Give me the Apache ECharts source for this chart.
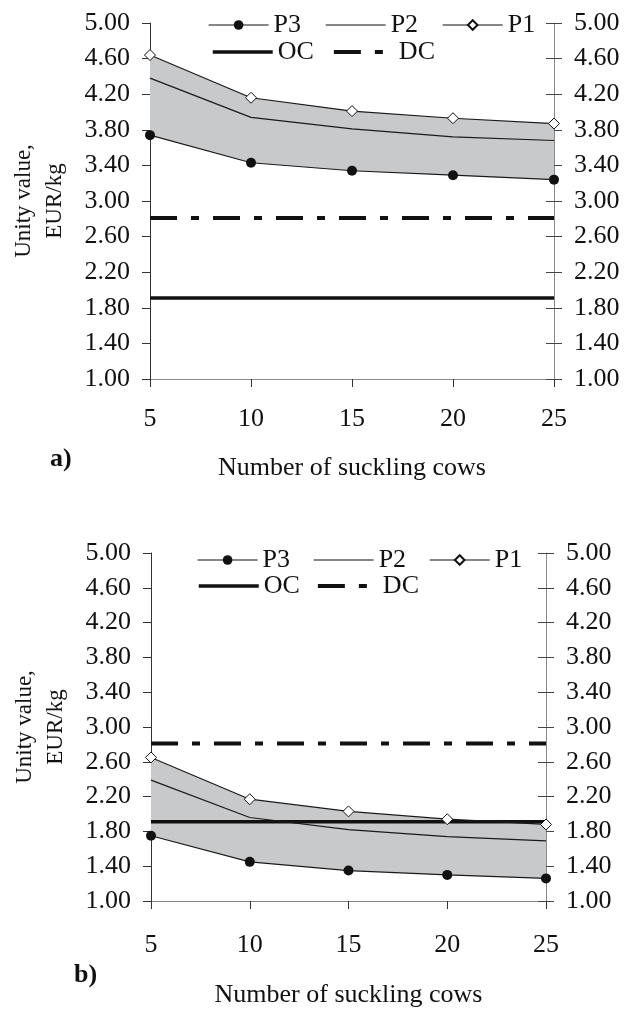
<!DOCTYPE html>
<html>
<head>
<meta charset="utf-8">
<script src="https://cdn.jsdelivr.net/npm/echarts@6/dist/echarts.min.js"></script>
<style>
  html, body { margin: 0; padding: 0; background: #fff; }
  #chart { width: 626px; height: 1009px; }
</style>
</head>
<body>
<div id="chart"></div>
<script>
// number of suckling cows
const cows = ['5', '10', '15', '20', '25'];
const yTicks = [1.0, 1.4, 1.8, 2.2, 2.6, 3.0, 3.4, 3.8, 4.2, 4.6, 5.0];

// a) unity value, EUR/kg
const aP1 = [4.64, 4.16, 4.01, 3.93, 3.87];
const aP2 = [4.38, 3.94, 3.81, 3.72, 3.68];
const aP3 = [3.74, 3.43, 3.34, 3.29, 3.24];

// b) unity value, EUR/kg
const bP1 = [2.65, 2.17, 2.03, 1.94, 1.88];
const bP2 = [2.39, 1.96, 1.82, 1.74, 1.69];
const bP3 = [1.75, 1.45, 1.35, 1.30, 1.26];

// reference costs (same in both panels)
const ocLevel = [1.91, 1.91, 1.91, 1.91, 1.91];
const dcLevel = [2.81, 2.81, 2.81, 2.81, 2.81];

const font = "'Liberation Serif', 'Times New Roman', serif";
const ink = '#111';
const dcDash = [27, 14, 8, 14];

const chart = echarts.init(document.getElementById('chart'));

function yAxes(gi) {
    return [
        {
            type: 'value', gridIndex: gi, position: 'left', min: 1, max: 5,
            name: 'Unity value,\nEUR/kg', nameLocation: 'middle', nameGap: 80, nameRotate: 90,
            nameTextStyle: { fontFamily: font, fontSize: 23, lineHeight: 31, color: ink },
            axisLine: { show: true, lineStyle: { color: '#333', width: 1 } },
            axisTick: { show: true, length: 8, lineStyle: { color: '#333' }, customValues: yTicks },
            axisLabel: {
                margin: 20, fontFamily: font, fontSize: 26, color: ink, customValues: yTicks,
                formatter: v => v.toFixed(2)
            },
            splitLine: { show: false }
        },
        {
            type: 'value', gridIndex: gi, position: 'right', min: 1, max: 5,
            axisLine: { show: true, lineStyle: { color: '#888', width: 1 } },
            axisTick: { show: true, length: 8, lineStyle: { color: '#444' }, customValues: yTicks },
            axisLabel: {
                margin: 20, fontFamily: font, fontSize: 26, color: ink, customValues: yTicks,
                formatter: v => v.toFixed(2)
            },
            splitLine: { show: false }
        },
        {
            // inner half of the crossing ticks on the right
            type: 'value', gridIndex: gi, position: 'right', min: 1, max: 5,
            axisLine: { show: false },
            axisTick: { show: true, inside: true, length: 8, lineStyle: { color: '#444' }, customValues: yTicks },
            axisLabel: { show: false },
            splitLine: { show: false }
        }
    ];
}

function xAxis(gi, margin, gap) {
    return {
        type: 'category', gridIndex: gi, data: cows, boundaryGap: false,
        name: 'Number of suckling cows', nameLocation: 'middle', nameGap: gap,
        nameTextStyle: { fontFamily: font, fontSize: 26, color: ink },
        axisLine: { lineStyle: { color: '#888', width: 1 } },
        axisTick: { length: 8, alignWithLabel: true, lineStyle: { color: '#333' } },
        axisLabel: { margin: margin, fontFamily: font, fontSize: 26, color: ink },
        splitLine: { show: false }
    };
}

function panel(gi, p1, p2, p3) {
    const ax = { xAxisIndex: gi, yAxisIndex: gi * 3 };
    const thin = { color: '#1a1a1a', width: 1.2 };
    const band = p1.map((v, i) => +(v - p3[i]).toFixed(2));
    return [
        Object.assign({
            name: 'base' + gi, type: 'line', stack: 'band' + gi, data: p3,
            symbol: 'none', silent: true, lineStyle: { opacity: 0 }
        }, ax),
        Object.assign({
            name: 'band' + gi, type: 'line', stack: 'band' + gi, data: band,
            symbol: 'none', silent: true, lineStyle: { opacity: 0 },
            areaStyle: { color: '#c8c9cb', opacity: 1 }
        }, ax),
        Object.assign({
            name: 'OC', type: 'line', data: ocLevel, symbol: 'none',
            lineStyle: { color: '#111', width: 3.5 }, itemStyle: { color: '#111' }
        }, ax),
        Object.assign({
            name: 'DC', type: 'line', data: dcLevel, symbol: 'none',
            lineStyle: { color: '#111', width: 4, type: dcDash }, itemStyle: { color: '#111' }
        }, ax),
        Object.assign({
            name: 'P2', type: 'line', data: p2, symbol: 'none',
            lineStyle: thin, itemStyle: { color: '#1a1a1a' }
        }, ax),
        Object.assign({
            name: 'P3', type: 'line', data: p3, symbol: 'circle', symbolSize: 10,
            lineStyle: thin, itemStyle: { color: '#111' }
        }, ax),
        Object.assign({
            name: 'P1', type: 'line', data: p1, symbol: 'diamond', symbolSize: 11,
            lineStyle: thin, itemStyle: { color: '#fff', borderColor: '#111', borderWidth: 1 }
        }, ax)
    ];
}

// legend entries; lines without markers get an invisible symbol
const noMark = { opacity: 0 };
const rowP = [
    { name: 'P3', lineStyle: { color: '#111', width: 1.2 } },
    { name: 'P2', itemStyle: noMark, lineStyle: { color: '#111', width: 1.2 } },
    { name: 'P1', lineStyle: { color: '#111', width: 1.2 } }
];
const rowC = [
    { name: 'OC', itemStyle: noMark, lineStyle: { color: '#111', width: 3.5, type: 'solid' } },
    { name: 'DC', itemStyle: noMark, lineStyle: { color: '#111', width: 4, type: dcDash } }
];

function legend(items, left, top, gap) {
    return {
        data: items, left: left, top: top, orient: 'horizontal',
        itemWidth: 60, itemHeight: 12, itemGap: gap, padding: 0,
        selectedMode: false,
        textStyle: { fontFamily: font, fontSize: 26, color: ink }
    };
}

const option = {
    animation: false,
    backgroundColor: '#fff',
    title: [
        { text: 'a)', left: 50, top: 446, padding: 0,
          textStyle: { fontFamily: font, fontSize: 26, fontWeight: 'bold', color: ink } },
        { text: 'b)', left: 74, top: 962, padding: 0,
          textStyle: { fontFamily: font, fontSize: 26, fontWeight: 'bold', color: ink } }
    ],
    legend: [
        legend(rowP, 208, 12, 24),
        legend(rowC, 211, 39, 18),
        legend(rowP, 197, 547, 23),
        legend(rowC, 197, 573, 16)
    ],
    grid: [
        { left: 150, top: 23, width: 404, height: 356 },
        { left: 151, top: 553, width: 395, height: 356 }
    ],
    xAxis: [xAxis(0, 27, 76), xAxis(1, 31, 81)],
    yAxis: yAxes(0).concat(yAxes(1)),
    series: panel(0, aP1, aP2, aP3).concat(panel(1, bP1, bP2, bP3))
};

chart.setOption(option);

window.addEventListener('resize', function () {
    chart.resize();
});
</script>
</body>
</html>
